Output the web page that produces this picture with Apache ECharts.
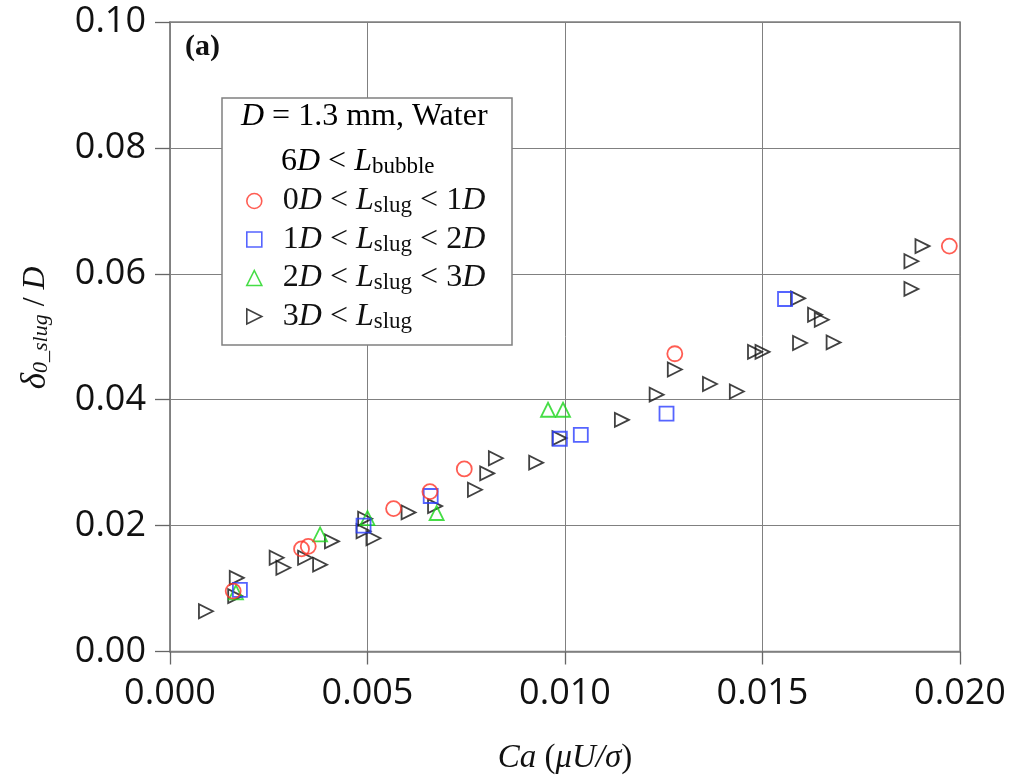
<!DOCTYPE html>
<html><head><meta charset="utf-8">
<script src="https://cdn.jsdelivr.net/npm/echarts@6/dist/echarts.min.js"></script>
<style>html,body{margin:0;padding:0;background:#fff}#c{width:1010px;height:780px}</style>
</head><body><div id="c"></div>
<script>
// ---- data (Ca, delta0_slug / D) ----
const redPoints = [[0.00160,0.0096],[0.00333,0.0163],[0.00350,0.0167],[0.00566,0.0227],[0.00658,0.0254],[0.00745,0.0290],[0.01278,0.0473],[0.01973,0.0644]];
const bluePoints = [[0.00177,0.0098],[0.00490,0.0200],[0.00660,0.0247],[0.00987,0.0338],[0.01040,0.0344],[0.01257,0.0378],[0.01557,0.0560]];
const greenPoints = [[0.00167,0.0094],[0.00380,0.0186],[0.00500,0.0212],[0.00675,0.0220],[0.00957,0.0384],[0.00995,0.0384]];
const blackPoints = [[0.00091,0.0064],[0.00165,0.0088],[0.00169,0.0117],[0.00270,0.0149],[0.00287,0.0133],[0.00342,0.0149],[0.00380,0.0138],[0.00410,0.0175],[0.00490,0.0191],[0.00494,0.0211],[0.00515,0.0180],[0.00604,0.0221],[0.00671,0.0231],[0.00772,0.0257],[0.00803,0.0283],[0.00825,0.0307],[0.00927,0.0300],[0.00986,0.0339],[0.01144,0.0368],[0.01232,0.0408],[0.01278,0.0448],[0.01367,0.0425],[0.01435,0.0413],[0.01481,0.0476],[0.01500,0.0476],[0.01595,0.0490],[0.01590,0.0561],[0.01633,0.0535],[0.01650,0.0527],[0.01680,0.0491],[0.01877,0.0576],[0.01877,0.0620],[0.01905,0.0644]];
const seriesNames = ['0D<Lslug<1D','1D<Lslug<2D','2D<Lslug<3D','3D<Lslug'];
const legendLabels = {
  '0D<Lslug<1D': '{g|}{n|0}{i|D}{n| < }{i|L}{s|slug}{n| < 1}{i|D}',
  '1D<Lslug<2D': '{g|}{n|1}{i|D}{n| < }{i|L}{s|slug}{n| < 2}{i|D}',
  '2D<Lslug<3D': '{g|}{n|2}{i|D}{n| < }{i|L}{s|slug}{n| < 3}{i|D}',
  '3D<Lslug': '{g|}{n|3}{i|D}{n| < }{i|L}{s|slug}'
};
const xMin = 0, xMax = 0.020, xStep = 0.005;
const yMin = 0, yMax = 0.10, yStep = 0.02;

const SERIF = 'Liberation Serif';
const richText = {
  n: {fontFamily: SERIF, fontSize: 32, lineHeight: 33, color: '#111'},
  i: {fontFamily: SERIF, fontSize: 32, lineHeight: 33, fontStyle: 'italic', color: '#111'},
  s: {fontFamily: SERIF, fontSize: 23, lineHeight: 13, verticalAlign: 'bottom', color: '#111'},
  g: {width: 16}
};

const chart = echarts.init(document.getElementById('c'), null, {renderer: 'canvas'});

const COLORS = {red: '#ff3528', blue: '#2b3dff', green: '#18d418', black: '#111111'};
const RIGHT_TRIANGLE = 'path://M0,0 L10,5 L0,10 Z';

function scatter(name, data, symbol, color, size, rotate) {
  return {
    name: name, type: 'scatter', data: data, symbol: symbol, symbolSize: size,
    symbolRotate: rotate || 0,
    itemStyle: {color: 'rgba(0,0,0,0)', borderColor: color, borderWidth: 1.8},
    emphasis: {disabled: true}, z: 3
  };
}

chart.setOption({
  animation: false,
  backgroundColor: '#fff',
  grid: {left: 170, right: 50, top: 22, bottom: 128, show: true, borderColor: '#808080', borderWidth: 1.5},
  xAxis: {
    type: 'value', min: xMin, max: xMax, interval: xStep,
    axisLine: {show: true, onZero: false, lineStyle: {color: '#808080', width: 1.5}},
    axisTick: {show: true, inside: false, length: 13, lineStyle: {color: '#666', width: 1.3}},
    splitLine: {show: true, lineStyle: {color: '#808080', width: 1}},
    axisLabel: {margin: 24, fontFamily: 'Open Sans', fontSize: 36, color: '#111', formatter: v => v.toFixed(3)},
    name: '{i|Ca}{n| (}{i|μU/σ}{n|)}',
    nameLocation: 'middle', nameGap: 90,
    nameTextStyle: {rich: {
      i: {fontFamily: SERIF, fontSize: 33, lineHeight: 34, fontStyle: 'italic', color: '#111'},
      n: {fontFamily: SERIF, fontSize: 33, lineHeight: 34, color: '#111'}
    }}
  },
  yAxis: {
    type: 'value', min: yMin, max: yMax, interval: yStep,
    axisLine: {show: true, onZero: false, lineStyle: {color: '#808080', width: 1.5}},
    axisTick: {show: true, inside: false, length: 15, lineStyle: {color: '#666', width: 1.3}},
    splitLine: {show: true, lineStyle: {color: '#808080', width: 1}},
    axisLabel: {margin: 24, fontFamily: 'Open Sans', fontSize: 36, color: '#111', formatter: v => v.toFixed(2)},
    name: '{d|δ}{s|0_slug}{n| / }{i|D}',
    nameLocation: 'middle', nameGap: 118, nameRotate: 90,
    nameTextStyle: {padding: [0, 0, 0, 18], rich: {
      d: {fontFamily: SERIF, fontSize: 35, lineHeight: 32, fontStyle: 'italic', color: '#111'},
      s: {fontFamily: SERIF, fontSize: 22, lineHeight: 14, fontStyle: 'italic', verticalAlign: 'bottom', color: '#111'},
      n: {fontFamily: SERIF, fontSize: 32, lineHeight: 32, color: '#111'},
      i: {fontFamily: SERIF, fontSize: 32, lineHeight: 32, fontStyle: 'italic', color: '#111'}
    }}
  },
  legend: {
    orient: 'vertical', left: 246, top: 185, padding: 0,
    itemWidth: 15, itemHeight: 15, itemGap: 6, z: 20,
    selectedMode: false,
    data: [
      {name: seriesNames[0], icon: 'circle'},
      {name: seriesNames[1], icon: 'rect'},
      {name: seriesNames[2], icon: 'triangle'},
      {name: seriesNames[3], icon: RIGHT_TRIANGLE}
    ],
    itemStyle: {borderWidth: 1.6},
    formatter: name => legendLabels[name],
    textStyle: {fontFamily: SERIF, fontSize: 32, color: '#111', rich: richText}
  },
  graphic: [
    {type: 'rect', z: 10, shape: {x: 222, y: 98, width: 290, height: 247},
     style: {fill: '#fff', stroke: '#808080', lineWidth: 1.5}},
    {type: 'text', z: 21, style: {x: 241, y: 117, text: '{i|D}{n| = 1.3 mm, Water}', rich: richText, verticalAlign: 'middle', align: 'left'}},
    {type: 'text', z: 21, style: {x: 281, y: 162, text: '{n|6}{i|D}{n| < }{i|L}{s|bubble}', rich: richText, verticalAlign: 'middle', align: 'left'}},
    {type: 'text', z: 21, style: {x: 185, y: 47, text: '(a)', font: 'bold 30px "Liberation Serif"', fill: '#111', verticalAlign: 'middle', align: 'left'}}
  ],
  series: [
    scatter(seriesNames[3], blackPoints, 'triangle', COLORS.black, 14, -90),
    scatter(seriesNames[2], greenPoints, 'triangle', COLORS.green, 14, 0),
    scatter(seriesNames[1], bluePoints, 'rect', COLORS.blue, 14, 0),
    scatter(seriesNames[0], redPoints, 'circle', COLORS.red, 15, 0)
  ]
});
</script>
</body></html>
